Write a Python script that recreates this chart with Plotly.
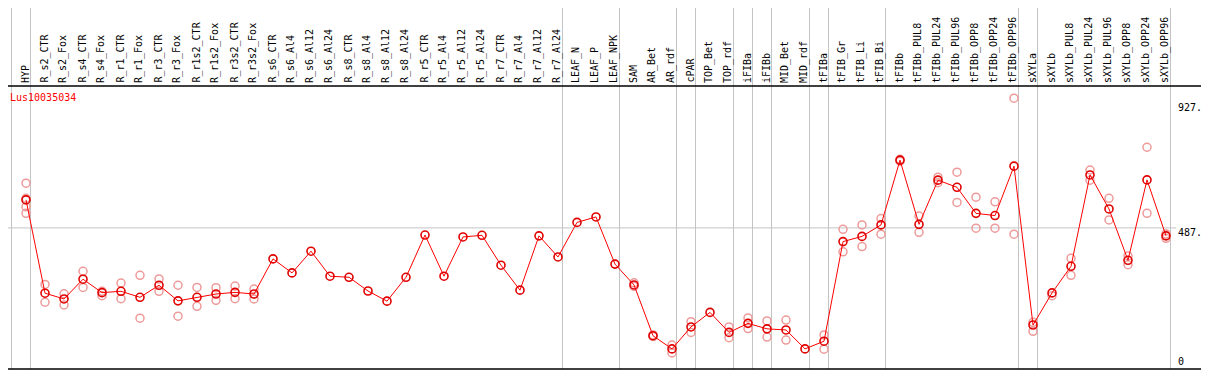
import plotly.graph_objects as go

gene_label = "Lus10035034"

categories = [
    "HYP", "R_s2_CTR", "R_s2_Fox", "R_s4_CTR", "R_s4_Fox", "R_r1_CTR", "R_r1_Fox",
    "R_r3_CTR", "R_r3_Fox", "R_r1s2_CTR", "R_r1s2_Fox", "R_r3s2_CTR", "R_r3s2_Fox",
    "R_s6_CTR", "R_s6_Al4", "R_s6_Al12", "R_s6_Al24", "R_s8_CTR", "R_s8_Al4",
    "R_s8_Al12", "R_s8_Al24", "R_r5_CTR", "R_r5_Al4", "R_r5_Al12", "R_r5_Al24",
    "R_r7_CTR", "R_r7_Al4", "R_r7_Al12", "R_r7_Al24", "LEAF_N", "LEAF_P", "LEAF_NPK",
    "SAM", "AR_Bet", "AR_rdf", "cPAR", "TOP_Bet", "TOP_rdf", "iFIBa", "iFIBb",
    "MID_Bet", "MID_rdf", "tFIBa", "tFIB_Gr", "tFIB_Li", "tFIB_Bi", "tFIBb",
    "tFIBb_PUL8", "tFIBb_PUL24", "tFIBb_PUL96", "tFIBb_OPP8", "tFIBb_OPP24",
    "tFIBb_OPP96", "sXYLa", "sXYLb", "sXYLb_PUL8", "sXYLb_PUL24", "sXYLb_PUL96",
    "sXYLb_OPP8", "sXYLb_OPP24", "sXYLb_OPP96",
]

mean_values = [
    589, 249, 228, 300, 251, 256, 234, 278, 221, 234, 246, 252, 246,
    374, 323, 402, 311, 307, 257, 220, 307, 461, 311, 454, 460,
    351, 260, 458, 381, 507, 527, 355,
    279, 94, 46, 126, 179, 106, 139, 119, 115, 46,
    74, 437, 456, 498, 734, 500, 661, 635, 540, 532, 712,
    133, 250, 347, 680, 556, 369, 662, 458,
]

N = None
rep_a = [
    650, 281, 247, 329, 256, 286, 314, 301, 278, 270, 269, 275, 264,
    N, N, N, N, N, N, N, N, N, N, N, N, N, N, N, N, N, N, N,
    287, 97, 60, 145, N, 126, 159, 148, 151, N,
    97, 482, 498, 521, 737, 530, 672, 690, 599, 582, 960,
    143, 240, 376, 698, 595, 385, 781, 465,
]
rep_b = [
    595, 216, 206, 270, 240, 229, 158, 256, 165, 201, 223, 229, 228,
    N, N, N, N, N, N, N, N, N, N, N, N, N, N, N, N, N, N, N,
    274, 91, 31, 106, N, 87, 120, 89, 78, N,
    45, 400, 419, 464, 730, 471, 652, 580, 486, 486, 464,
    110, N, 314, 661, 516, 353, 540, 449,
]
rep_c = [564] + [N] * 60
rep_d = [540] + [N] * 60

# group separators (vertical lines drawn after these category indices)
group_ends = [-1, 0, 28, 31, 34, 35, 37, 38, 39, 41, 42, 45, 52, 53, 60]

scale_labels = ["927.7", "487.0", "0"]
scale_values = [927.7, 487.0, 0.0]

# ---- pixel geometry helpers (layout only) ----
# the page body adds an 8px offset, so the figure covers window pixels 8..1209 / 8..370
OFF = 8
WIN_W, WIN_H = 1209, 370
W, H = WIN_W - OFF, WIN_H - OFF
X0, DX = 26.0, 19.0           # window pixel of first category, spacing
Y0, K = 361.5, 254.5 / 927.7  # window pixel of value 0, px per unit


def xd(px):
    return (px - X0) / DX


def yd(py):
    return (Y0 - py) / K


x_idx = list(range(len(categories)))

fig = go.Figure()

rep_color = "#ee9a9a"
for reps in (rep_a, rep_b, rep_c, rep_d):
    xs = [i for i, v in zip(x_idx, reps) if v is not None]
    ys = [v for v in reps if v is not None]
    fig.add_trace(go.Scatter(
        x=xs, y=ys, mode="markers",
        marker=dict(symbol="circle-open", size=8, color=rep_color, line=dict(width=1.5, color=rep_color)),
        showlegend=False, hoverinfo="skip", cliponaxis=False,
    ))

fig.add_trace(go.Scatter(
    x=x_idx, y=mean_values, mode="lines+markers",
    line=dict(color="#ff0000", width=1),
    marker=dict(symbol="circle-open", size=8, color="#e00000", line=dict(width=1.6, color="#e00000")),
    showlegend=False, cliponaxis=False,
))

shapes = []
grid_col = "#c4c4c4"
for g in group_ends:
    gx = g + 4.5 / DX
    shapes.append(dict(type="line", xref="x", yref="y", x0=gx, x1=gx, y0=yd(0), y1=yd(369),
                       line=dict(color=grid_col, width=1), layer="below"))
# horizontal reference line at middle value
shapes.append(dict(type="line", xref="x", yref="y", x0=xd(2), x1=xd(1176),
                   y0=scale_values[1], y1=scale_values[1],
                   line=dict(color=grid_col, width=1), layer="below"))
# borders
blk = dict(color="black", width=1.5)
shapes.append(dict(type="line", xref="x", yref="y", x0=xd(0), x1=xd(WIN_W), y0=yd(86), y1=yd(86), line=blk))
shapes.append(dict(type="line", xref="x", yref="y", x0=xd(1.5), x1=xd(1208), y0=yd(369), y1=yd(369), line=blk))
shapes.append(dict(type="line", xref="x", yref="y", x0=xd(1208), x1=xd(1208), y0=yd(86), y1=yd(369), line=blk))

mono = "DejaVu Sans Mono"
annotations = []
for i, c in enumerate(categories):
    annotations.append(dict(x=i - 0.05, y=yd(84), xref="x", yref="y", text=c, showarrow=False,
                            textangle=-90, xanchor="center", yanchor="bottom", borderpad=0,
                            font=dict(family=mono, size=10, color="black")))
annotations.append(dict(x=xd(9), y=yd(97.5), xref="x", yref="y", text=gene_label, showarrow=False,
                        xanchor="left", yanchor="middle", borderpad=0,
                        font=dict(family=mono, size=10, color="#ff0000")))
label_py = [107, 232, 361.5]
for t, py in zip(scale_labels, label_py):
    annotations.append(dict(x=xd(1177), y=yd(py), xref="x", yref="y", text=t, showarrow=False,
                            xanchor="left", yanchor="middle", borderpad=0,
                            font=dict(family=mono, size=10, color="black")))

fig.update_layout(
    width=W, height=H,
    margin=dict(l=0, r=0, t=0, b=0),
    paper_bgcolor="white", plot_bgcolor="white",
    xaxis=dict(range=[xd(OFF), xd(WIN_W)], visible=False, fixedrange=True),
    yaxis=dict(range=[yd(WIN_H), yd(OFF)], visible=False, fixedrange=True),
    shapes=shapes, annotations=annotations,
    showlegend=False,
)

fig.write_html("out.html")
